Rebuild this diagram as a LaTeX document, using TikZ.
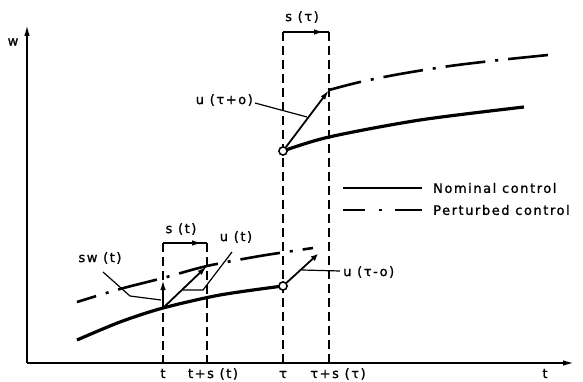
\documentclass[tikz,border=0pt]{standalone}
\usepackage{fontspec}
\setmainfont{DejaVu Sans}[LetterSpace=12, FakeBold=1.2]
\usetikzlibrary{arrows.meta}
\begin{document}
\begin{tikzpicture}[x=1pt,y=-1pt,
  lbl/.style={font=\fontsize{13}{15}\selectfont, inner sep=0pt},
  nominal/.style={line width=3.2pt},
  perturbed/.style={line width=2.6pt, dash pattern=on 40pt off 10pt on 3pt off 10pt},
  guide/.style={line width=1.2pt, dash pattern=on 9pt off 5pt},
  leader/.style={line width=1.2pt},
  vec/.style={line width=1.8pt, -{Latex[length=10pt,width=5.5pt]}},
  axis/.style={line width=2pt, -{Latex[length=12pt,width=5.5pt]}},
  brk/.style={line width=1.4pt},
  hollow/.style={circle, draw, line width=1.4pt, fill=white, minimum size=8pt, inner sep=0pt},
]
\useasboundingbox (0,0) rectangle (583,382);

% axes
\coordinate (O) at (27,363);
\coordinate (Ytop) at (27,24);
\coordinate (Xend) at (575,363);
\draw[axis] (O) -- (Ytop);
\draw[axis] (O) -- (Xend);
\node[lbl] (wlab) at (13,42) {w};
\node[lbl, anchor=base] (tax) at (545,378) {t};

% guide lines at t and t+s(t)
\coordinate (t0) at (163,363);
\coordinate (t1) at (163,243);
\coordinate (ts0) at (207,363);
\coordinate (ts1) at (207,243);
\coordinate (tsArr) at (202,243);
\draw[guide] (t1) -- (t0);
\draw[guide] (ts1) -- (ts0);
\draw[brk] (t1) -- (ts1);
\draw[brk, -{Latex[length=10pt,width=5.5pt]}] (t1) -- (tsArr);
\node[lbl] (st) at (181,229) {s (t)};
\node[lbl, anchor=base] (tl) at (163,378) {t};
\node[lbl, anchor=base] (tsl) at (213,378) {t+s (t)};

% guide lines at tau and tau+s(tau)
\coordinate (u0) at (283,363);
\coordinate (u1) at (283,32);
\coordinate (us0) at (329,363);
\coordinate (us1) at (329,32);
\coordinate (usArr) at (324,32);
\draw[guide] (u1) -- (u0);
\draw[guide] (us1) -- (us0);
\draw[brk] (u1) -- (us1);
\draw[brk, -{Latex[length=10pt,width=5.5pt]}] (u1) -- (usArr);
\node[lbl] (stau) at (302,17) {s (τ)};
\node[lbl, anchor=base] (taul) at (283,378) {τ};
\node[lbl, anchor=base] (tausl) at (338,378) {τ+s (τ)};

% key points
\coordinate (nT) at (163,308);
\coordinate (pTv) at (163,280);
\coordinate (pT) at (207,266);
\node[hollow] (cLow) at (283,286) {};
\node[hollow] (cUp) at (283,151) {};
\coordinate (pUp) at (329,90);
\coordinate (uEnd) at (318,254);

% nominal control curves
\draw[nominal] plot[smooth] coordinates {(77,340) (120,322) (nT) (220,295) (283,286)};
\draw[nominal] plot[smooth] coordinates {(283,151) (329,137) (420,120) (524,107)};

% perturbed control curves
\draw[perturbed, dash phase=20pt] plot[smooth] coordinates {(77,302) (120,289) (163,278) (207,266) (260,256) (313,248)};
\draw[perturbed, dash phase=7pt] plot[smooth] coordinates {(pUp) (360,82) (400,74) (450,66) (500,60) (548,55)};

% vectors
\draw[vec] (nT) -- (pTv);
\draw[vec] (nT) -- (pT);
\draw[vec] (cUp) -- (pUp);
\draw[line width=1.8pt, -{Latex[length=7pt,width=6.5pt]}] (cLow) -- (uEnd);

% circles on top
\node[hollow] at (cLow) {};
\node[hollow] at (cUp) {};

% labels with leaders
\node[lbl] (swl) at (100,258) {sw (t)};
\coordinate (swA) at (103,272);
\coordinate (swB) at (130,296);
\coordinate (swC) at (161,300);
\draw[leader] (swA) -- (swB) -- (swC);

\node[lbl] (utl) at (236,237) {u (t)};
\coordinate (utA) at (232,252);
\coordinate (utB) at (203,290);
\coordinate (utC) at (183,290);
\draw[leader] (utA) -- (utB) -- (utC);

\node[lbl, anchor=east] (upl) at (253,100) {u (τ+o)};
\coordinate (upA) at (255,103);
\coordinate (upB) at (307,117);
\draw[leader] (upA) -- (upB);

\node[lbl, anchor=west] (uml) at (343,272) {u (τ-o)};
\coordinate (umA) at (302,270);
\coordinate (umB) at (340,271);
\draw[leader] (umA) -- (umB);

% legend
\coordinate (lnA) at (343,188);
\coordinate (lnB) at (422,188);
\coordinate (lpA) at (343,210);
\coordinate (lpB) at (422,210);
\draw[nominal, line width=2.6pt] (lnA) -- (lnB);
\draw[line width=2.6pt, dash pattern=on 22pt off 14pt on 3pt off 13pt on 40pt] (lpA) -- (lpB);
\node[lbl, anchor=west] (lnl) at (433,188) {Nominal control};
\node[lbl, anchor=west] (lpl) at (433,210) {Perturbed control};
\end{tikzpicture}
\end{document}
